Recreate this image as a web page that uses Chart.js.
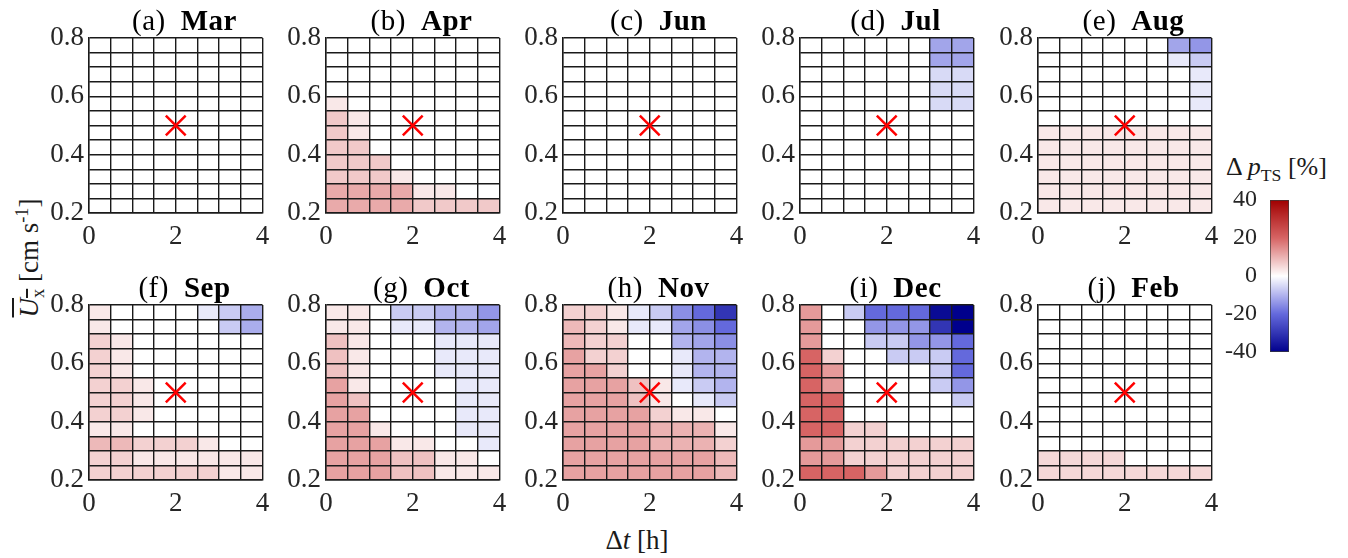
<!DOCTYPE html>
<html lang="en">
<head>
    <meta charset="UTF-8" />
    <title>Delta p_TS maps</title>
    <script src="https://cdn.jsdelivr.net/npm/chart.js@4"></script>
    <style>
        body {
            margin: 0;
            width: 1348px;
            height: 558px;
            position: relative;
            overflow: hidden;
            background: #fff;
            font-family: 'Liberation Serif', serif;
            color: #1a1a1a;
        }
        canvas { position: absolute; }
        .title {
            position: absolute;
            width: 175px;
            text-align: center;
            font-size: 29px;
            line-height: 29px;
            letter-spacing: 0.5px;
            white-space: nowrap;
            color: #000;
        }
        .title b { margin-left: 15px; }
        #ylab {
            position: absolute;
            left: -71px;
            top: 243px;
            width: 200px;
            height: 30px;
            line-height: 30px;
            font-size: 27px;
            text-align: center;
            white-space: nowrap;
            transform: rotate(-90deg);
        }
        #ylab .ov { text-decoration: overline; }
        #xlab {
            position: absolute;
            left: 537px;
            top: 525px;
            width: 200px;
            text-align: center;
            font-size: 27px;
            line-height: 30px;
        }
        #cblab {
            position: absolute;
            left: 1226px;
            top: 154px;
            font-size: 26px;
            line-height: 26px;
            white-space: nowrap;
        }
        sub, sup { font-size: 0.68em; line-height: 0; }
    </style>
</head>
<body>
    <div id="ylab"><span class="ov"><i>U</i><sub>x</sub></span> [cm s<sup>-1</sup>]</div>
    <div id="xlab">&Delta;<i>t</i> [h]</div>
    <div id="cblab">&Delta; <i>p</i><sub>TS</sub> [%]</div>

    <script>
        // cell centres: time shift [h] and mean velocity [cm/s] (top row first)
        const deltaT = [0.25, 0.75, 1.25, 1.75, 2.25, 2.75, 3.25, 3.75];
        const uxMid = [0.775, 0.725, 0.675, 0.625, 0.575, 0.525, 0.475, 0.425, 0.375, 0.325, 0.275, 0.225];
        const refPoint = [{ x: 2, y: 0.5 }];
        const cbarTicks = [-40, -20, 0, 20, 40];

        // change in p_TS [%], rows from U = 0.8 down to 0.2, columns dt = 0 .. 4 h
        const mar = [
            [0, 0, 0, 0, 0, 0, 0, 0],
            [0, 0, 0, 0, 0, 0, 0, 0],
            [0, 0, 0, 0, 0, 0, 0, 0],
            [0, 0, 0, 0, 0, 0, 0, 0],
            [0, 0, 0, 0, 0, 0, 0, 0],
            [0, 0, 0, 0, 0, 0, 0, 0],
            [0, 0, 0, 0, 0, 0, 0, 0],
            [0, 0, 0, 0, 0, 0, 0, 0],
            [0, 0, 0, 0, 0, 0, 0, 0],
            [0, 0, 0, 0, 0, 0, 0, 0],
            [0, 0, 0, 0, 0, 0, 0, 0],
            [0, 0, 0, 0, 0, 0, 0, 0]
        ];
        const apr = [
            [0, 0, 0, 0, 0, 0, 0, 0],
            [0, 0, 0, 0, 0, 0, 0, 0],
            [0, 0, 0, 0, 0, 0, 0, 0],
            [0, 0, 0, 0, 0, 0, 0, 0],
            [3, 0, 0, 0, 0, 0, 0, 0],
            [7, 3, 0, 0, 0, 0, 0, 0],
            [7, 3, 0, 0, 0, 0, 0, 0],
            [7, 7, 0, 0, 0, 0, 0, 0],
            [7, 7, 7, 0, 0, 0, 0, 0],
            [7, 7, 7, 3, 0, 0, 0, 0],
            [11, 11, 11, 11, 3, 3, 0, 0],
            [11, 11, 11, 11, 7, 7, 7, 7]
        ];
        const jun = [
            [0, 0, 0, 0, 0, 0, 0, 0],
            [0, 0, 0, 0, 0, 0, 0, 0],
            [0, 0, 0, 0, 0, 0, 0, 0],
            [0, 0, 0, 0, 0, 0, 0, 0],
            [0, 0, 0, 0, 0, 0, 0, 0],
            [0, 0, 0, 0, 0, 0, 0, 0],
            [0, 0, 0, 0, 0, 0, 0, 0],
            [0, 0, 0, 0, 0, 0, 0, 0],
            [0, 0, 0, 0, 0, 0, 0, 0],
            [0, 0, 0, 0, 0, 0, 0, 0],
            [0, 0, 0, 0, 0, 0, 0, 0],
            [0, 0, 0, 0, 0, 0, 0, 0]
        ];
        const jul = [
            [0, 0, 0, 0, 0, 0, -12, -12],
            [0, 0, 0, 0, 0, 0, -12, -12],
            [0, 0, 0, 0, 0, 0, -5, -5],
            [0, 0, 0, 0, 0, 0, -5, -5],
            [0, 0, 0, 0, 0, 0, -5, -5],
            [0, 0, 0, 0, 0, 0, 0, 0],
            [0, 0, 0, 0, 0, 0, 0, 0],
            [0, 0, 0, 0, 0, 0, 0, 0],
            [0, 0, 0, 0, 0, 0, 0, 0],
            [0, 0, 0, 0, 0, 0, 0, 0],
            [0, 0, 0, 0, 0, 0, 0, 0],
            [0, 0, 0, 0, 0, 0, 0, 0]
        ];
        const aug = [
            [0, 0, 0, 0, 0, 0, -12, -14],
            [0, 0, 0, 0, 0, 0, -3, -7],
            [0, 0, 0, 0, 0, 0, 0, -3],
            [0, 0, 0, 0, 0, 0, 0, -3],
            [0, 0, 0, 0, 0, 0, 0, -3],
            [0, 0, 0, 0, 0, 0, 0, 0],
            [3, 3, 3, 3, 3, 3, 3, 3],
            [3, 3, 3, 3, 3, 3, 3, 3],
            [3, 3, 3, 3, 3, 3, 3, 3],
            [3, 3, 3, 3, 3, 3, 3, 3],
            [3, 3, 3, 3, 3, 3, 3, 3],
            [3, 3, 3, 3, 3, 3, 3, 3]
        ];
        const sep = [
            [3, 0, 0, 0, 0, -3, -7, -11],
            [3, 0, 0, 0, 0, 0, -7, -11],
            [6, 3, 0, 0, 0, 0, 0, 0],
            [6, 3, 0, 0, 0, 0, 0, 0],
            [6, 3, 0, 0, 0, 0, 0, 0],
            [6, 6, 3, 0, 0, 0, 0, 0],
            [6, 6, 3, 0, 0, 0, 0, 0],
            [6, 6, 3, 0, 0, 0, 0, 0],
            [3, 3, 0, 0, 0, 0, 0, 0],
            [9, 9, 6, 6, 6, 3, 0, 0],
            [6, 6, 3, 3, 3, 3, 3, 3],
            [6, 6, 6, 6, 6, 6, 3, 3]
        ];
        const oct = [
            [3, 3, 0, -7, -7, -10, -10, -14],
            [3, 3, 0, -3, -3, -10, -10, -12],
            [8, 3, 0, 0, 0, -3, -3, -3],
            [8, 3, 0, 0, 0, -3, -3, -3],
            [8, 3, 0, 0, 0, -3, -3, -3],
            [12, 3, 0, 0, 0, 0, -3, -3],
            [12, 8, 0, 0, 0, 0, -3, -3],
            [12, 12, 0, 0, 0, 0, -3, -3],
            [12, 12, 3, 0, 0, 0, -3, -3],
            [12, 12, 12, 3, 3, 0, 0, -3],
            [12, 12, 12, 8, 8, 3, 3, 0],
            [12, 12, 12, 8, 8, 3, 3, 3]
        ];
        const nov = [
            [6, 6, 3, -3, -7, -15, -20, -30],
            [9, 6, 3, -3, -3, -12, -15, -20],
            [9, 6, 6, 0, 0, -10, -12, -15],
            [12, 6, 6, 0, 0, -3, -10, -10],
            [12, 12, 6, 0, 0, -3, -10, -10],
            [12, 12, 12, 8, 3, -3, -7, -10],
            [12, 12, 12, 8, 3, 0, -3, -7],
            [12, 12, 12, 12, 6, 3, 3, 0],
            [12, 12, 12, 12, 10, 10, 10, 3],
            [12, 12, 12, 12, 10, 10, 10, 6],
            [12, 12, 12, 12, 12, 12, 12, 9],
            [12, 12, 12, 12, 12, 12, 12, 9]
        ];
        const dec = [
            [13, 0, -7, -20, -20, -20, -38, -40],
            [13, 0, 0, -14, -14, -14, -30, -40],
            [13, 0, 0, -7, -7, -14, -14, -20],
            [20, 6, 0, 0, -7, -7, -7, -20],
            [20, 13, 0, 0, 0, 0, -7, -20],
            [20, 13, 0, 0, 0, 0, -7, -14],
            [20, 20, 0, 0, 0, 0, 0, -7],
            [20, 20, 0, 0, 0, 0, 0, 0],
            [20, 20, 6, 6, 0, 0, 0, 0],
            [13, 13, 6, 6, 6, 6, 6, 6],
            [13, 13, 6, 6, 6, 6, 6, 6],
            [20, 20, 20, 13, 6, 6, 6, 6]
        ];
        const feb = [
            [0, 0, 0, 0, 0, 0, 0, 0],
            [0, 0, 0, 0, 0, 0, 0, 0],
            [0, 0, 0, 0, 0, 0, 0, 0],
            [0, 0, 0, 0, 0, 0, 0, 0],
            [0, 0, 0, 0, 0, 0, 0, 0],
            [0, 0, 0, 0, 0, 0, 0, 0],
            [0, 0, 0, 0, 0, 0, 0, 0],
            [0, 0, 0, 0, 0, 0, 0, 0],
            [0, 0, 0, 0, 0, 0, 0, 0],
            [0, 0, 0, 0, 0, 0, 0, 0],
            [5, 5, 5, 5, 0, 0, 0, 0],
            [5, 5, 5, 5, 5, 5, 5, 5]
        ];

        const panelTags = ['(a)', '(b)', '(c)', '(d)', '(e)', '(f)', '(g)', '(h)', '(i)', '(j)'];
        const panelMonths = ['Mar', 'Apr', 'Jun', 'Jul', 'Aug', 'Sep', 'Oct', 'Nov', 'Dec', 'Feb'];
        const panelGrids = [mar, apr, jun, jul, aug, sep, oct, nov, dec, feb];

        // layout (pixels)
        const colLeft = [89, 326, 563, 800, 1038];
        const rowTop = [38, 305];
        const titleTop = [6, 273];
        const PLOT_W = 175, PLOT_H = 175;
        const AXIS_W = 60, AXIS_H = 44, PAD_T = 24, PAD_R = 15;
        const FONT = 'Liberation Serif';
        const LINE = '#1a1a1a';

        Chart.defaults.font.family = FONT;

        // red-white-blue diverging map, -40 .. 40 %
        function cmap(v) {
            const t = Math.max(-1, Math.min(1, v / 40));
            const mid = t >= 0 ? [215, 100, 100] : [100, 105, 220];
            const end = t >= 0 ? [160, 0, 0] : [0, 0, 140];
            const a = Math.abs(t);
            let c;
            if (a <= 0.5) {
                const f = a / 0.5;
                c = [0, 1, 2].map(i => 255 + (mid[i] - 255) * f);
            } else {
                const f = (a - 0.5) / 0.5;
                c = [0, 1, 2].map(i => mid[i] + (end[i] - mid[i]) * f);
            }
            return `rgb(${c.map(Math.round).join(',')})`;
        }

        // draw the reference cross again so it sits above the cell grid
        const markerOnTop = {
            id: 'markerOnTop',
            afterDraw(chart) {
                const meta = chart.getDatasetMeta(1);
                if (meta && meta.controller) meta.controller.draw();
            }
        };

        function makePanel(idx) {
            const col = idx % 5, row = Math.floor(idx / 5);
            const canvas = document.createElement('canvas');
            canvas.width = AXIS_W + PLOT_W + PAD_R;
            canvas.height = PAD_T + PLOT_H + AXIS_H;
            canvas.style.left = (colLeft[col] - AXIS_W) + 'px';
            canvas.style.top = (rowTop[row] - PAD_T) + 'px';
            document.body.appendChild(canvas);

            const cells = [];
            const colours = [];
            panelGrids[idx].forEach((vals, r) => {
                vals.forEach((v, c) => {
                    cells.push({ x: deltaT[c], y: [uxMid[r] - 0.025, uxMid[r] + 0.025] });
                    colours.push(cmap(v));
                });
            });

            new Chart(canvas, {
                type: 'bar',
                data: {
                    datasets: [{
                        type: 'bar',
                        data: cells,
                        backgroundColor: colours,
                        borderWidth: 0,
                        barPercentage: 1,
                        categoryPercentage: 1
                    }, {
                        type: 'scatter',
                        data: refPoint,
                        pointStyle: 'crossRot',
                        pointRadius: 14,
                        borderColor: '#ff0000',
                        borderWidth: 2.5
                    }]
                },
                options: {
                    responsive: false,
                    animation: false,
                    events: [],
                    layout: { padding: { top: PAD_T, right: PAD_R, left: 0, bottom: 0 } },
                    plugins: { legend: { display: false }, tooltip: { enabled: false } },
                    scales: {
                        x: {
                            type: 'linear', min: 0, max: 4, offset: false,
                            grid: { color: LINE, lineWidth: 1.4, drawTicks: false, offset: false, z: 1 },
                            border: { display: true, color: LINE, width: 1.4, z: 1 },
                            ticks: {
                                stepSize: 0.5, autoSkip: false, maxRotation: 0, padding: 8,
                                color: '#262626', font: { family: FONT, size: 27 },
                                callback: v => (v % 2 === 0 ? String(v) : '')
                            },
                            afterFit: s => { s.height = AXIS_H; }
                        },
                        y: {
                            type: 'linear', min: 0.2, max: 0.8, beginAtZero: false,
                            grid: { color: LINE, lineWidth: 1.4, drawTicks: false, z: 1 },
                            border: { display: true, color: LINE, width: 1.4, z: 1 },
                            ticks: {
                                stepSize: 0.05, autoSkip: false, padding: 5,
                                color: '#262626', font: { family: FONT, size: 27 },
                                callback: v => (Math.round(v * 100) % 20 === 0 ? v.toFixed(1) : '')
                            },
                            afterFit: s => { s.width = AXIS_W; }
                        }
                    }
                },
                plugins: [markerOnTop]
            });

            const t = document.createElement('div');
            t.className = 'title';
            t.style.left = (colLeft[col] + 8) + 'px';
            t.style.top = titleTop[row] + 'px';
            t.innerHTML = panelTags[idx] + '<b>' + panelMonths[idx] + '</b>';
            document.body.appendChild(t);
        }

        for (let i = 0; i < panelGrids.length; i++) makePanel(i);

        // colour bar
        const CB_PAD = 28;
        const cb = document.createElement('canvas');
        cb.width = 80;
        cb.height = CB_PAD + 152 + CB_PAD;
        cb.style.left = '1215px';
        cb.style.top = (200 - CB_PAD) + 'px';
        document.body.appendChild(cb);

        new Chart(cb, {
            type: 'bar',
            data: {
                labels: [''],
                datasets: [{
                    data: [[cbarTicks[0], cbarTicks[cbarTicks.length - 1]]],
                    backgroundColor: ctx => {
                        const ch = ctx.chart;
                        if (!ch.chartArea) return null;
                        const ys = ch.scales.y;
                        const g = ch.ctx.createLinearGradient(0, ys.getPixelForValue(-40), 0, ys.getPixelForValue(40));
                        for (let v = -40; v <= 40; v += 5) g.addColorStop((v + 40) / 80, cmap(v));
                        return g;
                    },
                    borderColor: '#3a3a3a',
                    borderWidth: 1,
                    borderSkipped: false,
                    barPercentage: 1,
                    categoryPercentage: 1
                }]
            },
            options: {
                responsive: false,
                animation: false,
                events: [],
                layout: { padding: { top: CB_PAD, bottom: CB_PAD, right: 6, left: 0 } },
                plugins: { legend: { display: false }, tooltip: { enabled: false } },
                scales: {
                    x: { display: false },
                    y: {
                        min: -40, max: 40,
                        grid: { display: false, drawTicks: false },
                        border: { display: false },
                        ticks: {
                            stepSize: 20, padding: 13, color: '#262626',
                            font: { family: FONT, size: 24 },
                            callback: v => String(v)
                        },
                        afterFit: s => { s.width = 55; }
                    }
                }
            }
        });
    </script>
</body>
</html>
